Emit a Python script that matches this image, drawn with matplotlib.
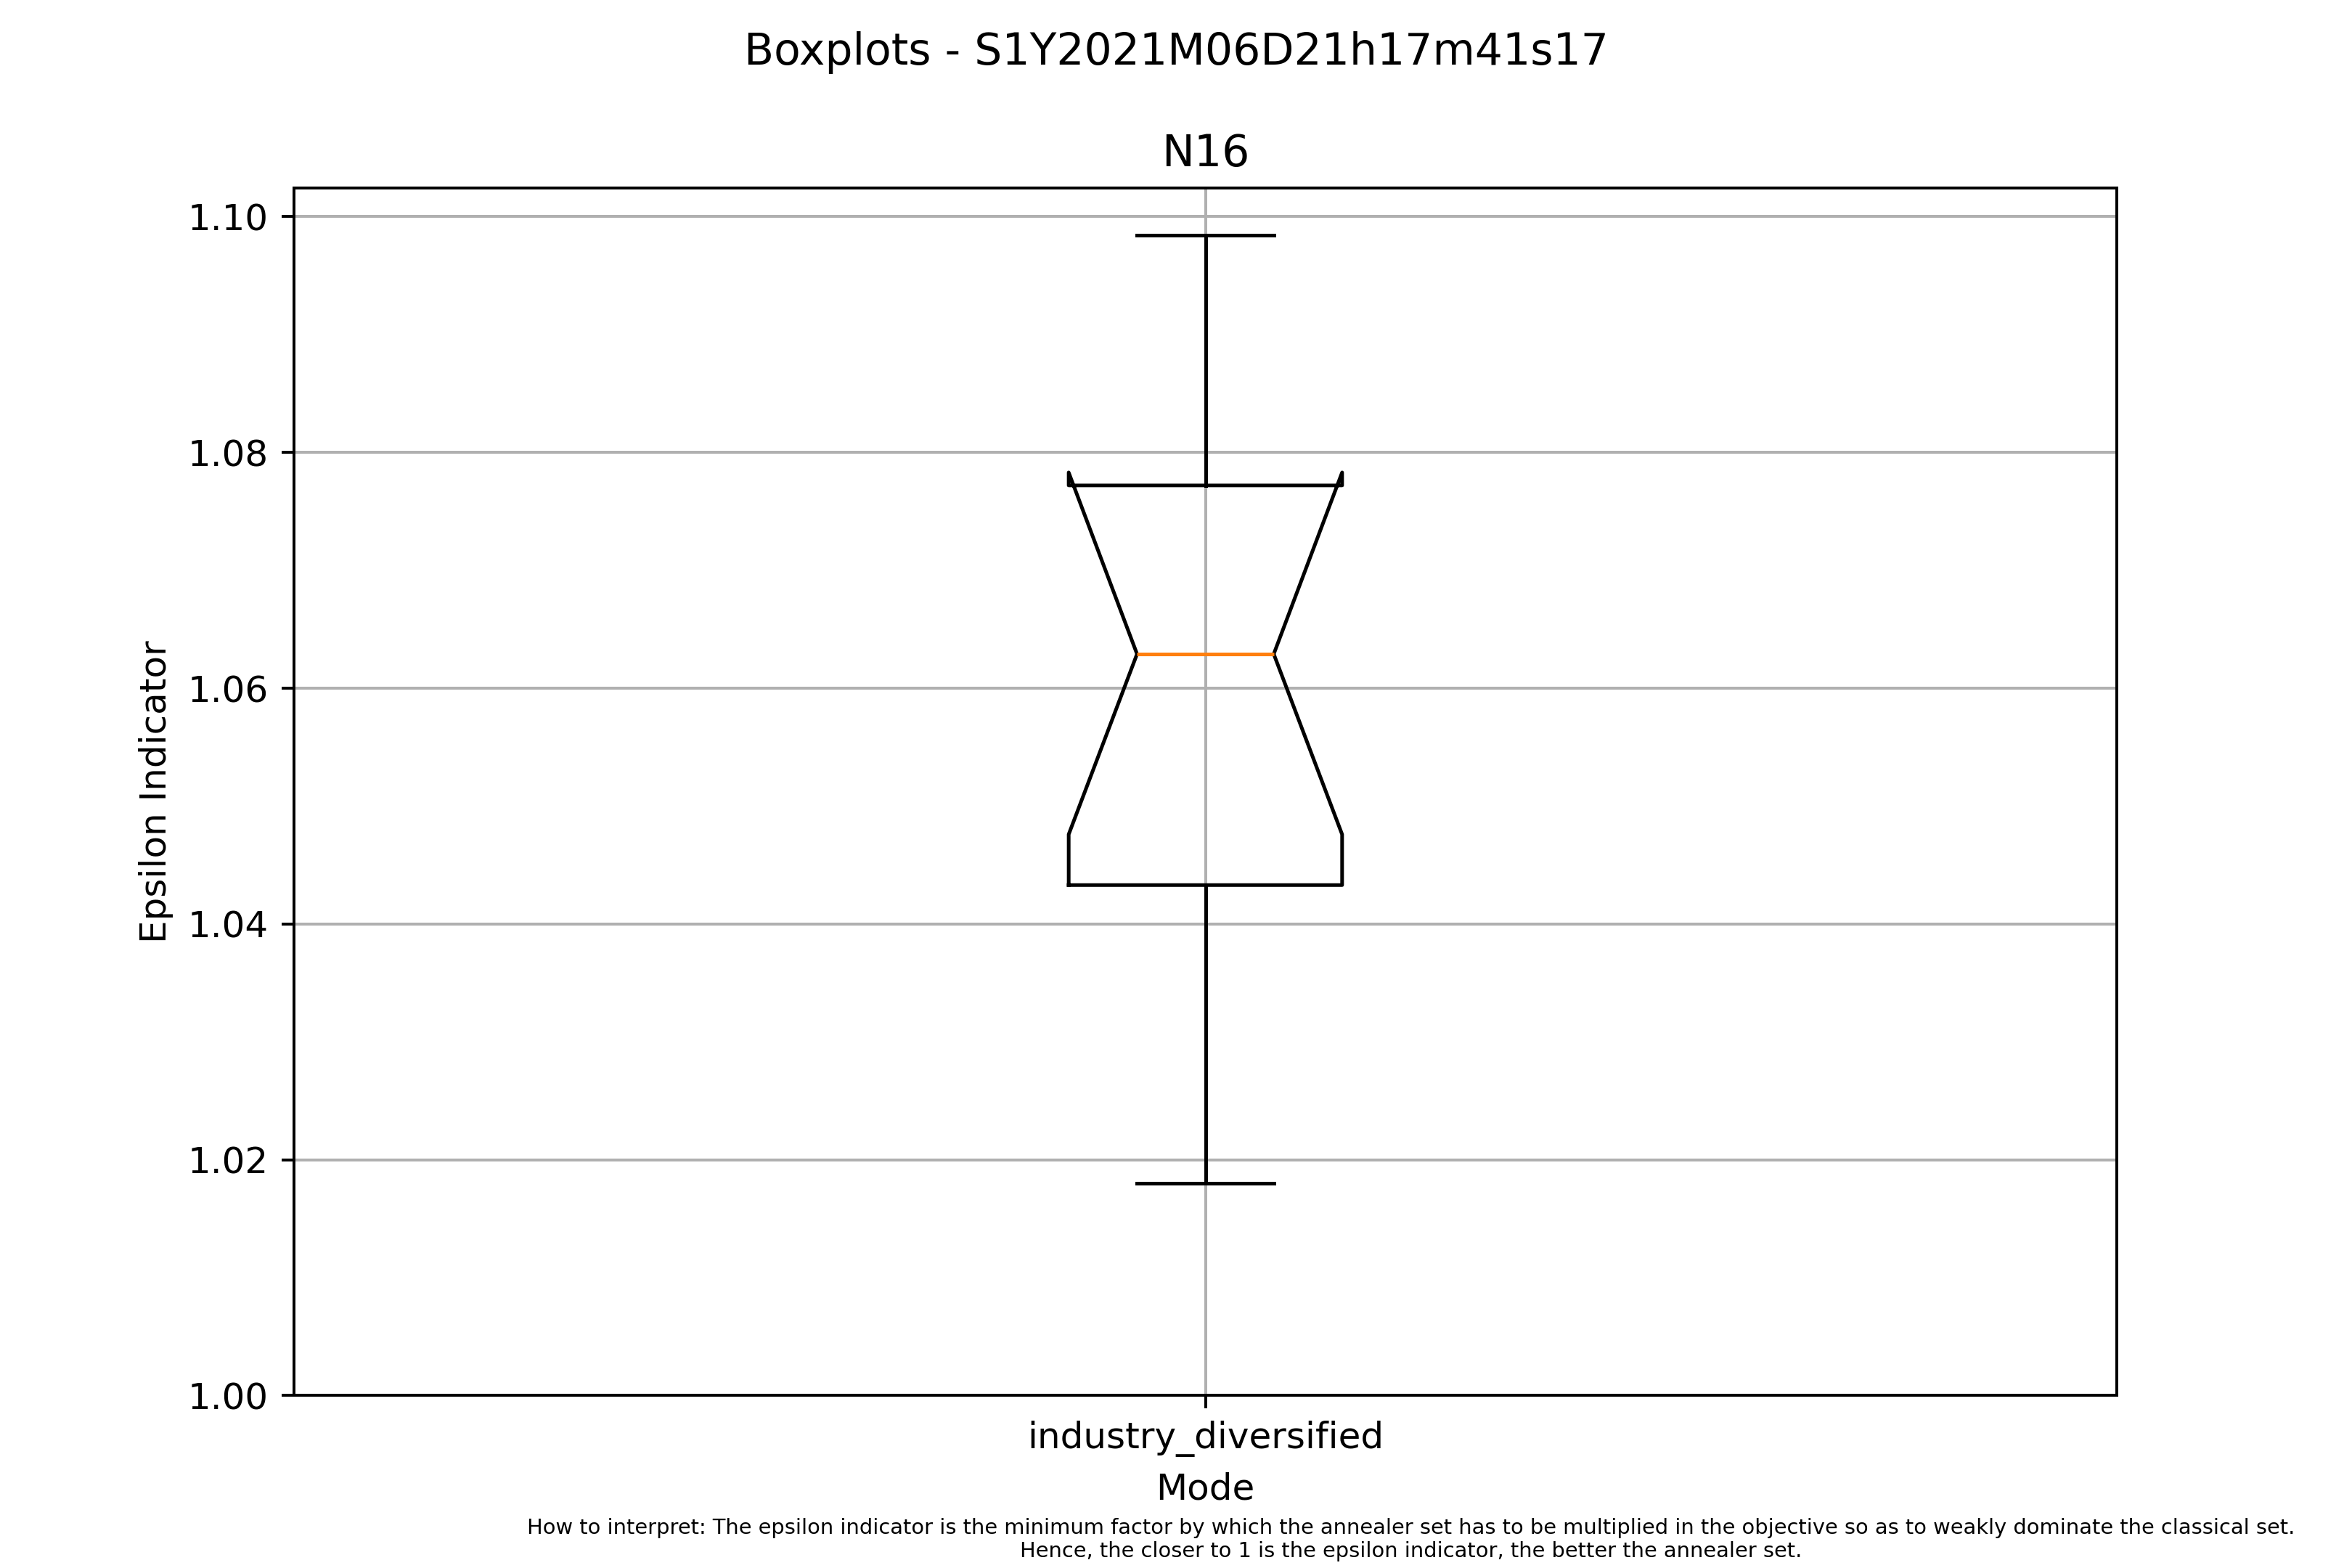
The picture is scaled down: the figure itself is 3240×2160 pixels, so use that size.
import matplotlib
matplotlib.use("Agg")
import matplotlib.pyplot as plt

modes = ["industry_diversified"]
whislo = [1.0180]
q1 = [1.0433]
med = [1.0629]
q3 = [1.0772]
whishi = [1.0984]
cilo = [1.0476]
cihi = [1.0783]

stats = []
for i, m in enumerate(modes):
    stats.append(dict(label=m, whislo=whislo[i], q1=q1[i], med=med[i], q3=q3[i],
                      whishi=whishi[i], cilo=cilo[i], cihi=cihi[i], fliers=[]))

fig, ax = plt.subplots(figsize=(9, 6), dpi=360)
ax.bxp(stats, shownotches=True, showfliers=False)
ax.set_ylim(bottom=1.0)
ax.grid(True)
ax.set_title("N16")
fig.suptitle("Boxplots - S1Y2021M06D21h17m41s17")
ax.set_xlabel("Mode")
ax.set_ylabel("Epsilon Indicator")
fig.text(0.6, 0.004,
         "How to interpret: The epsilon indicator is the minimum factor by which the annealer set has to be multiplied in the objective so as to weakly dominate the classical set.\n"
         "Hence, the closer to 1 is the epsilon indicator, the better the annealer set.",
         ha="center", va="bottom", fontsize="xx-small")
fig.savefig("out.png", dpi=360)
